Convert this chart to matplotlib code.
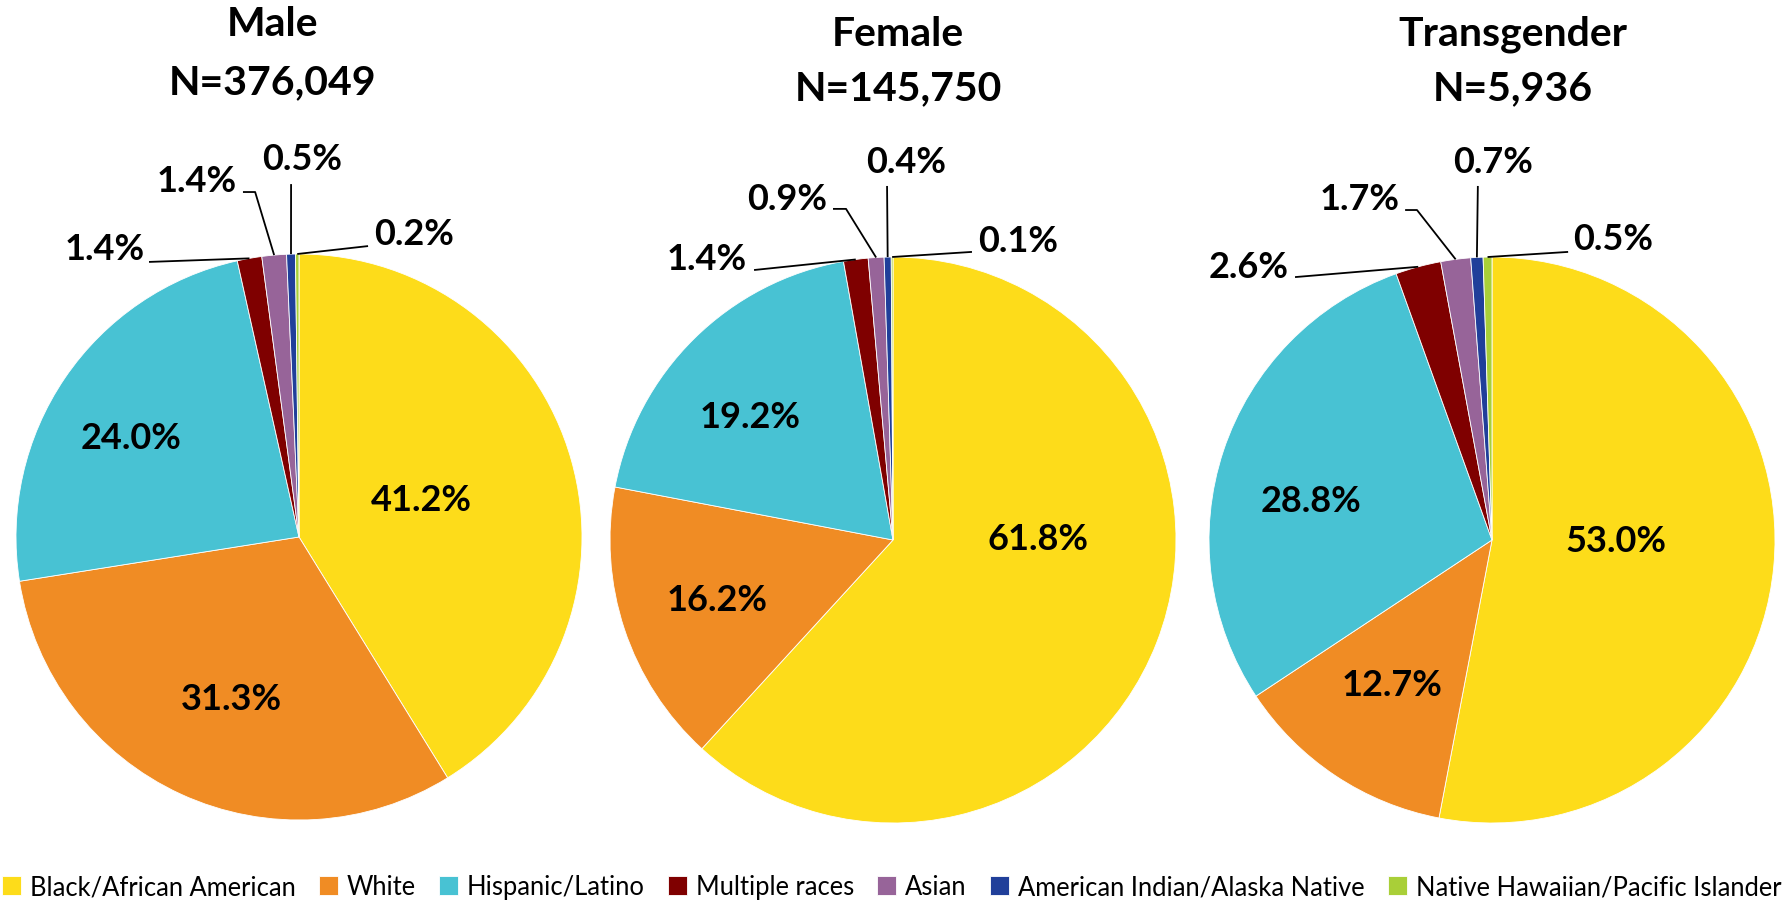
import numpy as np
import matplotlib
matplotlib.use("Agg")
import matplotlib.pyplot as plt

categories = ["Black/African American", "White", "Hispanic/Latino", "Multiple races",
              "Asian", "American Indian/Alaska Native", "Native Hawaiian/Pacific Islander"]
male_pct = [41.2, 31.3, 24.0, 1.4, 1.4, 0.5, 0.2]
female_pct = [61.8, 16.2, 19.2, 1.4, 0.9, 0.4, 0.1]
trans_pct = [53.0, 12.7, 28.8, 2.6, 1.7, 0.7, 0.5]
groups = ["Male", "Female", "Transgender"]
group_n = ["N=376,049", "N=145,750", "N=5,936"]

colors = ["#FDDC1A", "#F08C24", "#48C2D3", "#7F0000", "#976499", "#203F9A", "#A9CF38"]

FONT = ["Lato", "DejaVu Sans"]
W, H = 1783, 903
R = 283  # pie radius in px

# pie centres (px, from top-left) and title placement
centres = [(299, 538), (893, 541), (1492, 541)]
title_pos = [(273, 25, 83), (898, 34, 89), (1513, 34, 89)]

# label text positions in radius units, plus leader line points (text side first)
label_pos = [
    [(0.431, 0.131), (-0.240, -0.572), (-0.594, 0.353), (-0.686, 1.021),
     (-0.360, 1.261), (0.011, 1.336), (0.406, 1.074)],
    [(0.512, 0.007), (-0.622, -0.212), (-0.505, 0.435), (-0.657, 0.993),
     (-0.375, 1.208), (0.046, 1.339), (0.442, 1.057)],
    [(0.438, 0.0), (-0.353, -0.509), (-0.640, 0.141), (-0.859, 0.968),
     (-0.466, 1.205), (0.004, 1.336), (0.428, 1.064)],
]
leaders = [
    [None, None, None, [(-0.530, 0.972)], [(-0.198, 1.219), (-0.155, 1.219)],
     [(-0.028, 1.247)], [(0.244, 1.028)]],
    [None, None, None, [(-0.491, 0.954)], [(-0.212, 1.170), (-0.166, 1.170)],
     [(-0.021, 1.251)], [(0.279, 1.018)]],
    [None, None, None, [(-0.696, 0.929)], [(-0.307, 1.166), (-0.265, 1.166)],
     [(-0.050, 1.251)], [(0.269, 1.018)]],
]

fig = plt.figure(figsize=(W / 100, H / 100), dpi=100)

all_pct = [male_pct, female_pct, trans_pct]
wedges_first = None
for k, pct in enumerate(all_pct):
    cx, cy = centres[k]
    ax = fig.add_axes([(cx - R) / W, (H - cy - R) / H, 2 * R / W, 2 * R / H])
    wedges, _ = ax.pie(pct, colors=colors, startangle=90, counterclock=False,
                       wedgeprops=dict(edgecolor="white", linewidth=0.6))
    ax.set_xlim(-1, 1)
    ax.set_ylim(-1, 1)
    ax.set_aspect("equal")
    if wedges_first is None:
        wedges_first = wedges

    for i, w in enumerate(wedges):
        tx, ty = label_pos[k][i]
        ax.text(tx, ty, f"{pct[i]:.1f}%", ha="center", va="center",
                fontsize=26, fontweight="bold", family=FONT, clip_on=False)
        if leaders[k][i] is not None:
            mid = np.deg2rad((w.theta1 + w.theta2) / 2)
            pts = leaders[k][i] + [(np.cos(mid), np.sin(mid))]
            xs = [p[0] for p in pts]
            ys = [p[1] for p in pts]
            ax.plot(xs, ys, color="black", lw=1.3, clip_on=False,
                    solid_capstyle="butt")

    tx, y1, y2 = title_pos[k]
    fig.text(tx / W, 1 - y1 / H, groups[k], ha="center", va="center",
             fontsize=29.5, fontweight="bold", family=FONT)
    fig.text(tx / W, 1 - y2 / H, group_n[k], ha="center", va="center",
             fontsize=29.5, fontweight="bold", family=FONT)

fig.legend(wedges_first, categories, loc="center", bbox_to_anchor=(0.5, 1 - 888 / H),
           ncol=7, frameon=False, prop={"family": FONT, "size": 18.4},
           handlelength=0.75, handleheight=0.75, handletextpad=0.35,
           columnspacing=0.9, borderpad=0, borderaxespad=0)

fig.savefig("out.png", dpi=100, facecolor="white")
